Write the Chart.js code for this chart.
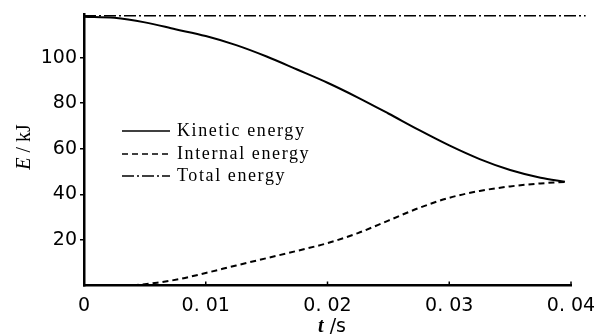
<!DOCTYPE html>
<html lang="en">
<head>
  <meta charset="UTF-8">
  <title>Energy vs time</title>
  <script src="https://cdn.jsdelivr.net/npm/chart.js"></script>
  <style>
    body {
      margin: 0;
      background: #fff;
    }
    canvas {
      display: block;
    }
  </style>
</head>
<body>
  <canvas id="energyChart" width="609" height="336"></canvas>

  <script>
    // data
    const timeKinetic = [0, 0.0025, 0.005, 0.0075, 0.01, 0.0125, 0.015, 0.0175, 0.02, 0.0225, 0.025, 0.0275, 0.03, 0.0325, 0.035, 0.0375, 0.0395];
    const kinetic = [118, 117.5, 115.5, 112.5, 109.5, 105.5, 100.5, 94.8, 89, 82.5, 75.5, 68.3, 61.5, 55.5, 50.7, 47.3, 45.5];

    const timeInternal = [0.004, 0.006, 0.008, 0.01, 0.0125, 0.015, 0.0175, 0.02, 0.0225, 0.025, 0.0275, 0.03, 0.0325, 0.035, 0.0375, 0.0395];
    const internal = [0, 1.2, 3, 5.5, 8.8, 12, 15.2, 18.6, 23, 28.5, 34, 38.5, 41.5, 43.5, 44.8, 45.5];

    const timeTotal = [0, 0.0412];
    const total = [118.4, 118.4];

    const xTicks = [0, 0.01, 0.02, 0.03, 0.04];
    const xTickLabels = ['0', '0. 01', '0. 02', '0. 03', '0. 04'];
    const yTicks = [20, 40, 60, 80, 100];

    const toPoints = (xs, ys) => xs.map((x, i) => ({ x: x, y: ys[i] }));

    // legend inside the plot + axis titles + inward x ticks
    const extras = {
      id: 'extras',
      afterDraw(chart) {
        const ctx = chart.ctx;
        const xs = chart.scales.x;
        const area = chart.chartArea;

        ctx.save();
        ctx.strokeStyle = '#000';
        ctx.lineWidth = 1.5;
        xTicks.forEach(v => {
          const px = xs.getPixelForValue(v);
          ctx.beginPath();
          ctx.moveTo(px, area.bottom);
          ctx.lineTo(px, area.bottom - 4);
          ctx.stroke();
        });

        // legend
        const rows = [131, 154, 176];
        chart.data.datasets.forEach((ds, i) => {
          const y = rows[i];
          ctx.setLineDash(ds.borderDash || []);
          ctx.lineWidth = 1.6;
          ctx.beginPath();
          ctx.moveTo(122, y);
          ctx.lineTo(170, y);
          ctx.stroke();
          ctx.setLineDash([]);
          ctx.fillStyle = '#000';
          ctx.font = '18px "Liberation Serif", serif';
          ctx.letterSpacing = '1.6px';
          ctx.textBaseline = 'middle';
          ctx.textAlign = 'left';
          ctx.fillText(ds.label, 177, y);
        });
        ctx.letterSpacing = '0px';

        // y title: E / kJ
        ctx.translate(25, 147);
        ctx.rotate(-Math.PI / 2);
        ctx.textBaseline = 'middle';
        ctx.font = 'italic 20px "Liberation Serif", serif';
        const w1 = ctx.measureText('E').width;
        ctx.font = '20px "Liberation Serif", serif';
        const w2 = ctx.measureText(' / kJ').width;
        let sx = -(w1 + w2) / 2;
        ctx.textAlign = 'left';
        ctx.font = 'italic 20px "Liberation Serif", serif';
        ctx.fillText('E', sx, 0);
        ctx.font = '20px "Liberation Serif", serif';
        ctx.fillText(' / kJ', sx + w1, 0);
        ctx.setTransform(1, 0, 0, 1, 0, 0);

        // x title: t /s
        ctx.font = 'italic bold 20px "Liberation Serif", serif';
        const t1 = ctx.measureText('t').width;
        ctx.font = '19px "DejaVu Sans", sans-serif';
        const t2 = ctx.measureText(' /s').width;
        sx = 332 - (t1 + t2) / 2;
        ctx.font = 'italic bold 20px "Liberation Serif", serif';
        ctx.fillText('t', sx, 327);
        ctx.font = '19px "DejaVu Sans", sans-serif';
        ctx.fillText(' /s', sx + t1, 327);
        ctx.restore();
      }
    };

    const energyChart = new Chart(document.getElementById('energyChart'), {
      type: 'line',
      data: {
        datasets: [
          {
            label: 'Kinetic energy',
            data: toPoints(timeKinetic, kinetic),
            borderColor: '#000',
            borderWidth: 2,
            pointRadius: 0,
            cubicInterpolationMode: 'monotone'
          },
          {
            label: 'Internal energy',
            data: toPoints(timeInternal, internal),
            borderColor: '#000',
            borderWidth: 2,
            borderDash: [6, 4],
            pointRadius: 0,
            cubicInterpolationMode: 'monotone'
          },
          {
            label: 'Total energy',
            data: toPoints(timeTotal, total),
            borderColor: '#000',
            borderWidth: 1.5,
            borderDash: [12, 3, 2, 3],
            pointRadius: 0,
            clip: false
          }
        ]
      },
      options: {
        responsive: false,
        animation: false,
        layout: {
          padding: { top: 14, right: 38, left: 0, bottom: 0 }
        },
        plugins: {
          legend: { display: false },
          tooltip: { enabled: false }
        },
        scales: {
          x: {
            type: 'linear',
            min: 0,
            max: 0.04,
            afterFit: s => { s.height = 50.5; },
            afterBuildTicks: s => { s.ticks = xTicks.map(v => ({ value: v })); },
            border: { color: '#000', width: 2.5 },
            grid: { display: false },
            ticks: {
              color: '#000',
              padding: 1,
              font: { family: '"DejaVu Sans", sans-serif', size: 19 },
              callback: (v) => xTickLabels[xTicks.indexOf(v)]
            }
          },
          y: {
            min: 0,
            max: 119,
            afterFit: s => { s.width = 84; },
            afterBuildTicks: s => { s.ticks = yTicks.map(v => ({ value: v })); },
            border: { color: '#000', width: 2.5 },
            grid: {
              drawOnChartArea: false,
              color: '#000',
              lineWidth: 1.5,
              tickLength: 4
            },
            ticks: {
              color: '#000',
              padding: 3,
              font: { family: '"DejaVu Sans", sans-serif', size: 19 }
            }
          }
        }
      },
      plugins: [extras]
    });
  </script>
</body>
</html>
